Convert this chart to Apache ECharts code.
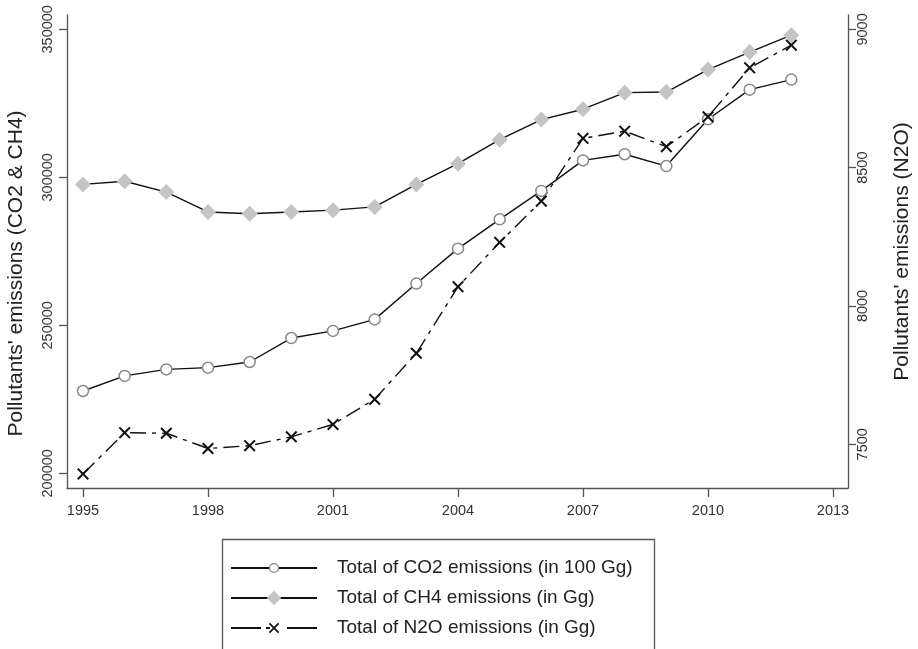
<!DOCTYPE html>
<html>
<head>
<meta charset="utf-8">
<script src="https://cdn.jsdelivr.net/npm/echarts@6/dist/echarts.min.js"></script>
<style>
html,body{margin:0;padding:0;background:#fff;}
#chart{width:918px;height:649px;}
</style>
</head>
<body>
<div id="chart"></div>
<script>
const years = [1995,1996,1997,1998,1999,2000,2001,2002,2003,2004,2005,2006,2007,2008,2009,2010,2011,2012];
const co2 = [227800,232900,235100,235700,237600,245700,248100,252000,264100,275900,285800,295400,305700,307800,303800,319600,329600,333000];
const ch4 = [297600,298650,295000,288300,287700,288300,288900,290000,297600,304600,312700,319500,323000,328600,328800,336400,342300,348000];
const n2o = [7393,7542,7540,7485,7495,7527,7572,7663,7829,8070,8230,8379,8606,8632,8576,8684,8861,8943];
const xTicks = [1995,1998,2001,2004,2007,2010,2013];
const yLeftTicks = [200000,250000,300000,350000];
const yRightTicks = [7500,8000,8500,9000];
const names = ['Total of CO2 emissions (in 100 Gg)','Total of CH4 emissions (in Gg)','Total of N2O emissions (in Gg)'];

const FONT = 'Liberation Sans, Arial, sans-serif';
const pair = (xs, ys) => xs.map((x,i)=>[x, ys[i]]);
const xSym = 'path://M0,1.2L1.2,0L5,3.8L8.8,0L10,1.2L6.2,5L10,8.8L8.8,10L5,6.2L1.2,10L0,8.8L3.8,5Z';

const axisLineStyle = {color:'#555', width:1.3};
const labelStyle = {fontSize:14.5, color:'#333', fontFamily:FONT};
const legendBase = {orient:'vertical', left:230, padding:0, itemWidth:86,
  textStyle:{fontSize:19, color:'#222', fontFamily:FONT, padding:[0,0,0,15]}};

const chart = echarts.init(document.getElementById('chart'));
chart.setOption({
  backgroundColor:'#fff',
  animation:false,
  grid:{left:67, top:15, width:781, height:473, containLabel:false, outerBoundsMode:'none'},
  xAxis:{
    type:'value', min:1994.616, max:2013.36,
    splitLine:{show:false},
    axisLine:{show:true, onZero:false, lineStyle:axisLineStyle},
    axisTick:{show:true, length:9, customValues:xTicks, lineStyle:axisLineStyle},
    axisLabel:Object.assign({customValues:xTicks, margin:15, formatter:v=>String(v)}, labelStyle)
  },
  yAxis:[{
    type:'value', position:'left', min:195034, max:354831,
    name:"Pollutants' emissions (CO2 & CH4)", nameLocation:'middle', nameGap:40, nameRotate:90,
    nameMoveOverlap:false,
    nameTextStyle:{fontSize:21, color:'#222', fontFamily:FONT, padding:[0,44,0,0]},
    splitLine:{show:false},
    axisLine:{show:true, lineStyle:axisLineStyle},
    axisTick:{show:true, length:8, customValues:yLeftTicks, lineStyle:axisLineStyle},
    axisLabel:Object.assign({customValues:yLeftTicks, rotate:90, margin:12, formatter:v=>String(v)}, labelStyle)
  },{
    type:'value', position:'right', min:7342, max:9052,
    name:"Pollutants' emissions (N2O)", nameLocation:'middle', nameGap:44, nameRotate:90,
    nameMoveOverlap:false,
    nameTextStyle:{fontSize:21, color:'#222', fontFamily:FONT},
    splitLine:{show:false},
    axisLine:{show:true, lineStyle:axisLineStyle},
    axisTick:{show:true, length:8, customValues:yRightTicks, lineStyle:axisLineStyle},
    axisLabel:Object.assign({customValues:yRightTicks, rotate:90, margin:7, formatter:v=>String(v)}, labelStyle)
  }],
  legend:[
    Object.assign({}, legendBase, {top:558.5, itemHeight:11, data:[names[0]],
      itemStyle:{color:'#fff', borderColor:'#888', borderWidth:1.3}}),
    Object.assign({}, legendBase, {top:588.5, itemHeight:18, data:[names[1]],
      itemStyle:{color:'#c4c4c4', borderWidth:0}}),
    Object.assign({}, legendBase, {top:618.5, itemHeight:13, data:[names[2]],
      itemStyle:{color:'#111', borderWidth:0},
      lineStyle:{type:[30,5,4,17,30,10]}})
  ],
  graphic:[{type:'rect', shape:{x:222.5, y:539.5, width:432, height:130}, style:{fill:'none', stroke:'#555', lineWidth:1.3}, silent:true}],
  series:[{
    name:names[0], type:'line', yAxisIndex:0, data:pair(years, co2),
    symbol:'circle', symbolSize:11,
    lineStyle:{color:'#111', width:1.4},
    itemStyle:{color:'#fff', borderColor:'#888', borderWidth:1.5}
  },{
    name:names[1], type:'line', yAxisIndex:0, data:pair(years, ch4),
    symbol:'diamond', symbolSize:[16,16],
    lineStyle:{color:'#111', width:1.4},
    itemStyle:{color:'#c4c4c4', borderWidth:0}
  },{
    name:names[2], type:'line', yAxisIndex:1, data:pair(years, n2o),
    symbol:xSym, symbolSize:12,
    lineStyle:{color:'#111', width:1.4, type:[16,6,4,6]},
    itemStyle:{color:'#111', borderWidth:0}
  }]
});
</script>
</body>
</html>
